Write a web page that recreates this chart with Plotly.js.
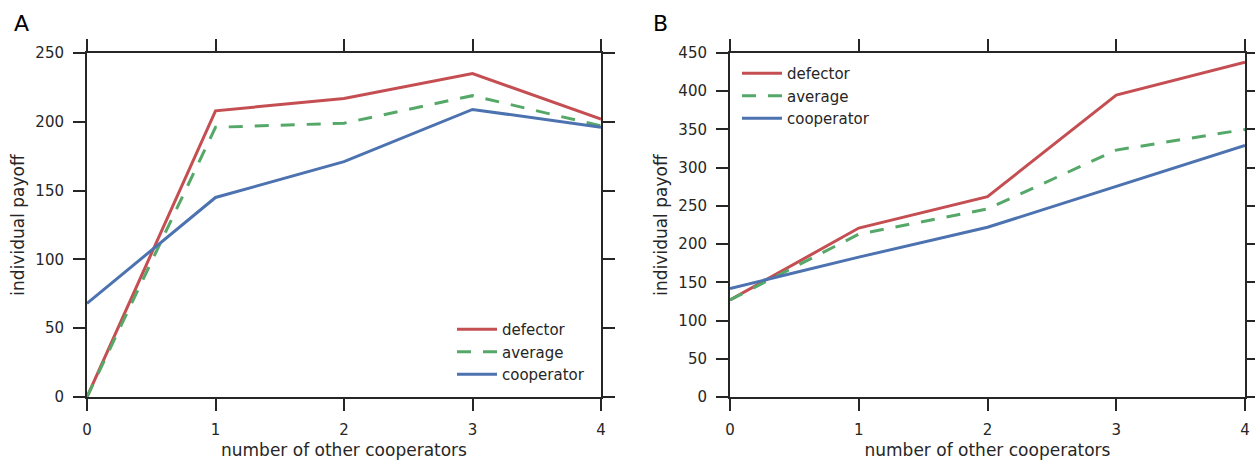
<!DOCTYPE html>
<html>
<head>
<meta charset="utf-8">
<script src="https://cdn.plot.ly/plotly-3.0.1.min.js"></script>
<style>html,body{margin:0;padding:0;background:#fff;}#chart{width:1255px;height:462px;}</style>
</head>
<body>
<div id="chart"></div>
<script>
// x categories: number of other cooperators
const xVals = [0, 1, 2, 3, 4];
// Panel A
const defectorA    = [0, 208, 217, 235, 202];
const averageA     = [0, 196, 199, 219, 197];
const cooperatorA  = [68, 145, 171, 209, 196];
// Panel B
const defectorB    = [127, 221, 262, 395, 438];
const averageB     = [127, 213, 246, 323, 350];
const cooperatorB  = [142, 183, 222, 275, 329];

const names = ['defector', 'average', 'cooperator'];
const colors = ['#C44E52', '#55A868', '#4C72B0'];
const dashes = ['solid', '14px,12px', 'solid'];

const W = 1255, H = 462;
const fx = p => p / W;
const fy = p => 1 - p / H;

function mk(y, i, xa, ya, leg) {
  return {
    x: xVals, y: y, type: 'scatter', mode: 'lines', name: names[i],
    xaxis: xa, yaxis: ya, legend: leg,
    line: {color: colors[i], width: 3, dash: dashes[i]}
  };
}
const data = [
  mk(defectorA, 0, 'x', 'y', 'legend'),
  mk(averageA, 1, 'x', 'y', 'legend'),
  mk(cooperatorA, 2, 'x', 'y', 'legend'),
  mk(defectorB, 0, 'x2', 'y2', 'legend2'),
  mk(averageB, 1, 'x2', 'y2', 'legend2'),
  mk(cooperatorB, 2, 'x2', 'y2', 'legend2')
];

const tickFont = {family: 'DejaVu Sans', size: 15, color: '#262626'};
const titleFont = {family: 'DejaVu Sans', size: 17, color: '#262626'};
const axBase = {
  showline: true, linecolor: '#262626', linewidth: 2, mirror: 'ticks',
  ticks: 'outside', ticklen: 12, tickwidth: 2, tickcolor: '#262626',
  showgrid: false, zeroline: false, tickfont: tickFont, automargin: false,
  fixedrange: true
};
function xaxis(dom, anchor) {
  return Object.assign({}, axBase, {
    domain: dom, anchor: anchor, range: [0, 4], dtick: 1, tick0: 0,
    ticklabelstandoff: 6,
    title: {text: 'number of other cooperators', font: titleFont, standoff: 6}
  });
}
function yaxis(dom, anchor, max) {
  return Object.assign({}, axBase, {
    domain: dom, anchor: anchor, range: [0, max], dtick: 50, tick0: 0,
    ticklabelstandoff: 6,
    title: {text: 'individual payoff', font: titleFont, standoff: 6}
  });
}
const yDom = [fy(397), fy(53)];
const legFont = {family: 'DejaVu Sans', size: 15, color: '#262626'};
const layout = {
  width: W, height: H,
  margin: {l: 0, r: 0, t: 0, b: 0},
  paper_bgcolor: '#fff', plot_bgcolor: '#fff',
  font: {family: 'DejaVu Sans', color: '#262626'},
  xaxis: xaxis([fx(87), fx(601)], 'y'),
  yaxis: yaxis(yDom, 'x', 250),
  xaxis2: xaxis([fx(730), fx(1245)], 'y2'),
  yaxis2: yaxis(yDom, 'x2', 450),
  legend: {
    x: fx(452), y: fy(391), xanchor: 'left', yanchor: 'bottom',
    bgcolor: 'rgba(0,0,0,0)', font: legFont, tracegroupgap: 0, itemwidth: 40
  },
  legend2: {
    x: fx(737), y: fy(57), xanchor: 'left', yanchor: 'top',
    bgcolor: 'rgba(0,0,0,0)', font: legFont, tracegroupgap: 0, itemwidth: 40
  },
  annotations: [
    {text: 'A', x: fx(12), y: fy(23), xref: 'paper', yref: 'paper', xanchor: 'left', yanchor: 'middle',
     showarrow: false, font: {family: 'DejaVu Sans', size: 22, color: '#000'}},
    {text: 'B', x: fx(651), y: fy(23), xref: 'paper', yref: 'paper', xanchor: 'left', yanchor: 'middle',
     showarrow: false, font: {family: 'DejaVu Sans', size: 22, color: '#000'}}
  ],
  showlegend: true
};
Plotly.newPlot('chart', data, layout, {displayModeBar: false, staticPlot: true});
</script>
</body>
</html>
